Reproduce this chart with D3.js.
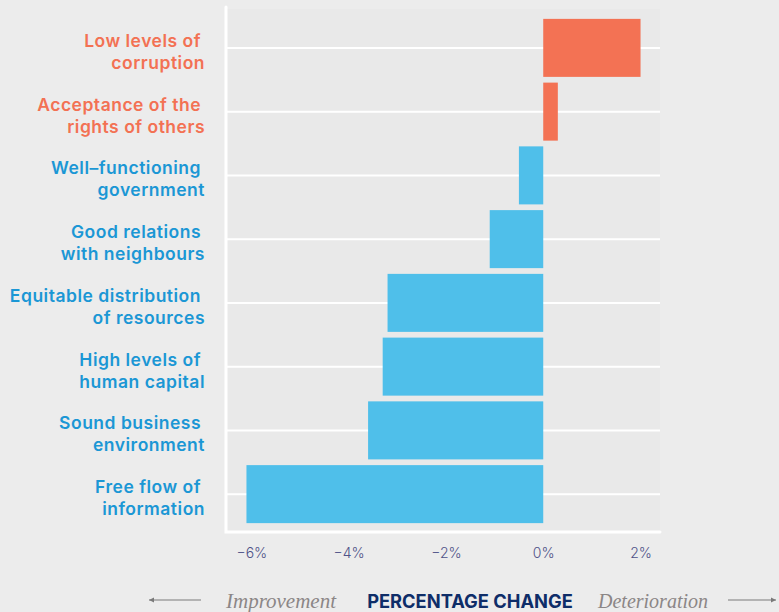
<!DOCTYPE html>
<html>
<head>
<meta charset="utf-8">
<script src="https://cdn.jsdelivr.net/npm/d3@7"></script>
<style>
  body { margin: 0; background: #ececec; }
  svg { display: block; }
</style>
</head>
<body>
<svg id="chart" width="779" height="612"></svg>
<script>
// data
var categories = [
  ['Low levels of', 'corruption'],
  ['Acceptance of the', 'rights of others'],
  ['Well\u2013functioning', 'government'],
  ['Good relations', 'with neighbours'],
  ['Equitable distribution', 'of resources'],
  ['High levels of', 'human capital'],
  ['Sound business', 'environment'],
  ['Free flow of', 'information']
];
var values = [2.0, 0.3, -0.5, -1.1, -3.2, -3.3, -3.6, -6.1];
var tickValues = [-6, -4, -2, 0, 2];

var svg = d3.select('#chart');
var plot_left = 227, plot_right = 660, plot_top = 9, plot_bottom = 532;
var orange = '#f37254', blue = '#4fbfea';
var labelOrange = '#f37153', labelBlue = '#1b97d5';

var x = d3.scaleLinear().domain([-6.5, 2.4]).range([plot_left, plot_right]);
var y = d3.scaleBand().domain(d3.range(values.length))
  .range([plot_top + 7, plot_bottom - 6]).paddingInner(0.09).paddingOuter(0.045);

// plot background
svg.append('rect')
  .attr('x', plot_left).attr('y', plot_top)
  .attr('width', plot_right - plot_left).attr('height', plot_bottom - plot_top)
  .attr('fill', '#e9e9e9');

// gridlines through band centres
svg.append('g').selectAll('line')
  .data(values)
  .enter().append('line')
  .attr('x1', plot_left).attr('x2', plot_right)
  .attr('y1', function(d, i) { return y(i) + y.bandwidth() / 2; })
  .attr('y2', function(d, i) { return y(i) + y.bandwidth() / 2; })
  .attr('stroke', '#fff').attr('stroke-width', 2);

// bars
svg.append('g').selectAll('rect')
  .data(values)
  .enter().append('rect')
  .attr('x', function(d) { return x(Math.min(0, d)); })
  .attr('width', function(d) { return Math.abs(x(d) - x(0)); })
  .attr('y', function(d, i) { return y(i); })
  .attr('height', y.bandwidth())
  .attr('fill', function(d) { return d > 0 ? orange : blue; });

// left and bottom white frame
svg.append('path')
  .attr('d', 'M' + (plot_left - 1) + ',' + (plot_top - 2) + 'V' + plot_bottom + 'H' + plot_right)
  .attr('stroke', '#fff').attr('stroke-width', 3).attr('fill', 'none')
  .attr('stroke-linecap', 'round');

// x axis
var xAxis = d3.axisBottom(x).tickValues(tickValues).tickSize(0).tickPadding(16)
  .tickFormat(function(d) { return (d < 0 ? '\u2212' + Math.abs(d) : d) + '%'; });
svg.append('g')
  .attr('transform', 'translate(0,' + plot_bottom + ')')
  .call(xAxis)
  .call(function(g) {
    g.select('.domain').remove();
    g.selectAll('text')
      .attr('fill', '#4f5288')
      .attr('font-family', 'Inter, "Noto Sans", sans-serif')
      .attr('font-size', 14)
      .attr('font-weight', 300);
  });

// category labels
var labels = svg.append('g').selectAll('text')
  .data(categories)
  .enter().append('text')
  .attr('text-anchor', 'end')
  .attr('font-family', 'Inter, "Noto Sans", sans-serif')
  .attr('font-size', 17.5)
  .attr('letter-spacing', 0.5)
  .attr('font-weight', 600)
  .attr('fill', function(d, i) { return values[i] > 0 ? labelOrange : labelBlue; })
  .attr('transform', function(d, i) { return 'translate(205,' + (y(i) + y.bandwidth() / 2) + ')'; });
labels.append('tspan').attr('x', -4).attr('y', -1).text(function(d) { return d[0]; });
labels.append('tspan').attr('x', 0).attr('y', 21).text(function(d) { return d[1]; });

// bottom titles
var footY = 608;
svg.append('text')
  .attr('x', 470).attr('y', footY)
  .attr('text-anchor', 'middle')
  .attr('font-family', 'Inter, "Noto Sans", sans-serif')
  .attr('font-size', 18.3).attr('font-weight', 700)
  .attr('fill', '#0e2d68')
  .text('PERCENTAGE CHANGE');
svg.append('text')
  .attr('x', 226).attr('y', footY)
  .attr('font-family', '"Liberation Serif", "DejaVu Serif", serif')
  .attr('font-style', 'italic').attr('font-size', 21)
  .attr('fill', '#8b8686')
  .text('Improvement');
svg.append('text')
  .attr('x', 598).attr('y', footY)
  .attr('font-family', '"Liberation Serif", "DejaVu Serif", serif')
  .attr('font-style', 'italic').attr('font-size', 20)
  .attr('fill', '#8b8686')
  .text('Deterioration');

// arrows
var draw_arrow = function(x1, x2) {
  var dir = x2 > x1 ? 1 : -1;
  svg.append('line')
    .attr('x1', x1).attr('x2', x2).attr('y1', 600).attr('y2', 600)
    .attr('stroke', '#7a7a7a').attr('stroke-width', 1.2);
  svg.append('path')
    .attr('d', 'M' + x2 + ',600L' + (x2 - dir * 5) + ',597.5L' + (x2 - dir * 5) + ',602.5Z')
    .attr('fill', '#7a7a7a');
};
draw_arrow(201, 149);
draw_arrow(728, 776);
</script>
</body>
</html>
